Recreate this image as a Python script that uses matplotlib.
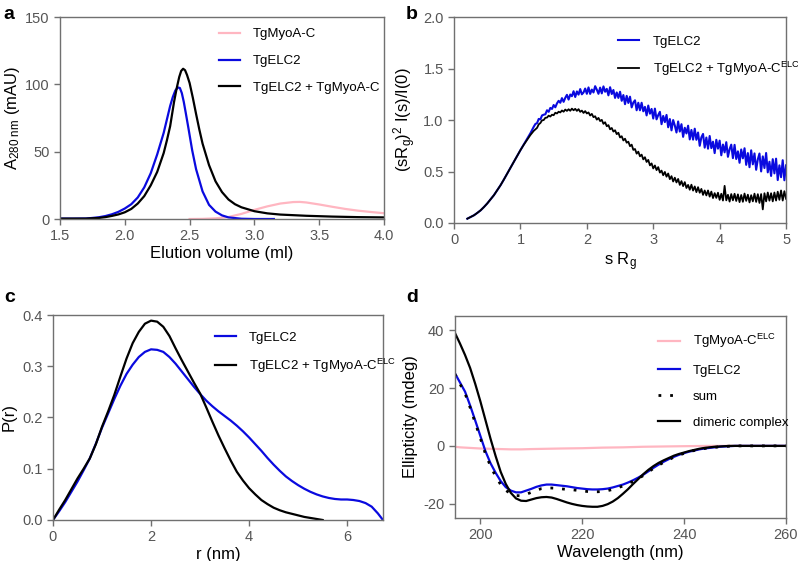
import numpy as np
import matplotlib
matplotlib.use("Agg")
import matplotlib.pyplot as plt

plt.rcParams['font.family'] = ['Liberation Sans', 'DejaVu Sans']
plt.rcParams['axes.unicode_minus'] = False
plt.rcParams['mathtext.fontset'] = 'custom'
plt.rcParams['mathtext.rm'] = 'Liberation Sans'
plt.rcParams['mathtext.it'] = 'Liberation Sans'

PINK = '#ffb6c1'
BLUE = '#0a0adf'
BLACK = '#000000'
GRAY = '#707070'
TICKC = '#555555'

# ---- panel a: size exclusion chromatography
vol_myoa = [2.5, 2.6, 2.7, 2.8, 2.9, 3.0, 3.1, 3.2, 3.3, 3.35, 3.4, 3.5, 3.6, 3.7, 3.8, 3.9, 4.0]
abs_myoa = [0.0, 0.1, 0.5, 1.5, 3.8, 6.8, 9.4, 11.5, 12.6, 12.7, 12.3, 10.8, 9.1, 7.5, 6.2, 5.2, 4.3]

vol_elc2 = [1.5, 1.6, 1.7, 1.75, 1.8, 1.85, 1.9, 1.95, 2.0, 2.05, 2.1, 2.15, 2.2, 2.25, 2.3,
            2.325, 2.35, 2.37, 2.39, 2.41, 2.425, 2.44, 2.455, 2.47, 2.49, 2.52, 2.55, 2.6,
            2.65, 2.7, 2.75, 2.8, 2.9, 3.0, 3.15]
abs_elc2 = [0.3, 0.3, 0.4, 0.8, 1.3, 2.2, 3.5, 5.3, 7.8, 11.0, 16.0, 23.5, 34.0, 48.0, 64.0,
            74.0, 84.0, 90.5, 95.5, 97.7, 97.3, 93.5, 87.0, 79.0, 68.0, 51.0, 37.0, 20.5,
            10.5, 5.5, 2.7, 1.2, 0.2, 0.0, 0.0]

vol_cplx = [1.5, 1.7, 1.8, 1.85, 1.9, 1.95, 2.0, 2.05, 2.1, 2.15, 2.2, 2.25, 2.3, 2.325, 2.35,
            2.38, 2.4, 2.42, 2.435, 2.45, 2.465, 2.48, 2.5, 2.525, 2.55, 2.575, 2.6, 2.65, 2.7,
            2.75, 2.8, 2.85, 2.9, 3.0, 3.1, 3.2, 3.4, 3.6, 3.8, 4.0]
abs_cplx = [0.3, 0.3, 0.8, 1.4, 2.3, 3.4, 5.0, 7.5, 11.5, 17.0, 25.0, 35.0, 49.0, 58.5, 69.0,
            87.0, 97.0, 105.5, 110.0, 111.6, 110.5, 107.0, 101.0, 90.0, 78.0, 66.5, 56.0, 40.0, 28.0,
            20.0, 14.5, 11.0, 8.7, 5.8, 4.2, 3.3, 2.4, 1.8, 1.4, 1.2]

# ---- panel b: dimensionless Kratky plot (smooth low-s part + noisy part)
sRg = np.concatenate([np.linspace(0.2, 1.2, 21), np.linspace(1.225, 5.0, 152)])
kratky_elc2 = [
    0.042, 0.058, 0.075, 0.098, 0.123, 0.155, 0.190, 0.230, 0.270, 0.318, 0.367,
    0.422, 0.480, 0.537, 0.594, 0.651, 0.708, 0.762, 0.815, 0.872, 0.935,
    0.962, 0.970, 1.011, 1.006, 1.045, 1.052, 1.056, 1.095,
    1.080, 1.118, 1.108, 1.146, 1.124, 1.162, 1.187, 1.168,
    1.213, 1.177, 1.216, 1.245, 1.199, 1.248, 1.232, 1.280,
    1.224, 1.278, 1.247, 1.301, 1.250, 1.268, 1.306, 1.255,
    1.317, 1.254, 1.296, 1.268, 1.329, 1.295, 1.255, 1.315,
    1.259, 1.327, 1.275, 1.303, 1.240, 1.319, 1.253, 1.292,
    1.215, 1.268, 1.215, 1.275, 1.187, 1.243, 1.154, 1.235,
    1.166, 1.227, 1.123, 1.170, 1.192, 1.095, 1.168, 1.095,
    1.168, 1.085, 1.128, 1.045, 1.141, 1.062, 1.108, 1.015,
    1.111, 1.007, 1.048, 1.080, 0.960, 1.040, 0.980, 1.050,
    0.930, 1.010, 0.900, 1.000, 0.947, 0.879, 0.986, 0.888,
    0.960, 0.837, 0.925, 0.870, 0.945, 0.812, 0.904, 0.810,
    0.916, 0.808, 0.879, 0.750, 0.832, 0.865, 0.732, 0.830,
    0.722, 0.845, 0.727, 0.790, 0.679, 0.808, 0.722, 0.800,
    0.658, 0.762, 0.686, 0.785, 0.643, 0.717, 0.761, 0.630,
    0.759, 0.622, 0.696, 0.585, 0.714, 0.628, 0.726, 0.565,
    0.679, 0.542, 0.706, 0.570, 0.676, 0.517, 0.618, 0.675,
    0.501, 0.647, 0.534, 0.680, 0.492, 0.595, 0.457, 0.620,
    0.482, 0.625, 0.417, 0.560, 0.445, 0.610, 0.415, 0.560]
kratky_cplx = [
    0.042, 0.058, 0.075, 0.098, 0.123, 0.155, 0.190, 0.230, 0.270, 0.318, 0.367,
    0.422, 0.480, 0.537, 0.594, 0.651, 0.708, 0.760, 0.808, 0.855, 0.895,
    0.910, 0.924, 0.958, 0.971, 0.997, 1.000, 1.022, 1.024,
    1.043, 1.034, 1.052, 1.047, 1.071, 1.064, 1.081, 1.074,
    1.093, 1.081, 1.102, 1.089, 1.105, 1.090, 1.111, 1.095,
    1.109, 1.089, 1.106, 1.080, 1.092, 1.069, 1.087, 1.064,
    1.074, 1.044, 1.060, 1.028, 1.037, 1.004, 1.021, 0.990,
    1.002, 0.963, 0.979, 0.940, 0.951, 0.910, 0.923, 0.888,
    0.901, 0.863, 0.877, 0.831, 0.843, 0.802, 0.819, 0.780,
    0.790, 0.746, 0.761, 0.710, 0.719, 0.674, 0.693, 0.648,
    0.664, 0.618, 0.639, 0.593, 0.613, 0.560, 0.579, 0.530,
    0.559, 0.514, 0.543, 0.490, 0.509, 0.464, 0.496, 0.450,
    0.481, 0.426, 0.455, 0.403, 0.440, 0.394, 0.428, 0.370,
    0.407, 0.358, 0.397, 0.340, 0.370, 0.323, 0.372, 0.315,
    0.355, 0.300, 0.348, 0.294, 0.331, 0.273, 0.316, 0.268,
    0.316, 0.256, 0.305, 0.242, 0.290, 0.244, 0.294, 0.225,
    0.284, 0.218, 0.361, 0.220, 0.274, 0.208, 0.281, 0.220,
    0.284, 0.214, 0.278, 0.203, 0.272, 0.206, 0.286, 0.215,
    0.275, 0.200, 0.270, 0.210, 0.285, 0.205, 0.280, 0.195,
    0.281, 0.132, 0.289, 0.210, 0.296, 0.217, 0.289, 0.210,
    0.296, 0.218, 0.304, 0.225, 0.316, 0.218, 0.309, 0.235]

# ---- panel c: pair distance distribution
r_elc2 = [0.0, 0.125, 0.25, 0.375, 0.5, 0.625, 0.75, 0.875, 1.0, 1.125, 1.25, 1.375, 1.5,
          1.625, 1.75, 1.875, 2.0, 2.125, 2.25, 2.375, 2.5, 2.625, 2.75, 2.875, 3.0, 3.125,
          3.25, 3.375, 3.5, 3.625, 3.75, 3.875, 4.0, 4.125, 4.25, 4.375, 4.5, 4.625, 4.75,
          4.875, 5.0, 5.125, 5.25, 5.375, 5.5, 5.625, 5.75, 5.875, 6.0, 6.125, 6.25, 6.375,
          6.5, 6.625, 6.73]
pr_elc2 = [0.0, 0.017, 0.035, 0.055, 0.075, 0.097, 0.12, 0.149, 0.18, 0.208, 0.236, 0.262, 0.285,
           0.303, 0.318, 0.328, 0.333, 0.332, 0.328, 0.318, 0.305, 0.290, 0.275, 0.260, 0.246,
           0.233, 0.222, 0.212, 0.203, 0.194, 0.184, 0.173, 0.161, 0.148, 0.135, 0.121, 0.108,
           0.096, 0.085, 0.076, 0.068, 0.061, 0.055, 0.050, 0.046, 0.043, 0.041, 0.040, 0.040,
           0.039, 0.037, 0.033, 0.026, 0.013, 0.0]
r_cplx = [0.0, 0.125, 0.25, 0.375, 0.5, 0.625, 0.75, 0.875, 1.0, 1.125, 1.25, 1.375, 1.5,
          1.625, 1.75, 1.875, 2.0, 2.125, 2.25, 2.375, 2.5, 2.625, 2.75, 2.875, 3.0, 3.125,
          3.25, 3.375, 3.5, 3.625, 3.75, 3.875, 4.0, 4.125, 4.25, 4.375, 4.5, 4.625, 4.75,
          4.875, 5.0, 5.125, 5.25, 5.375, 5.5]
pr_cplx = [0.0, 0.020, 0.039, 0.060, 0.081, 0.100, 0.120, 0.148, 0.182, 0.212, 0.244, 0.280,
           0.315, 0.345, 0.367, 0.383, 0.389, 0.387, 0.377, 0.359, 0.335, 0.312, 0.290, 0.268,
           0.247, 0.220, 0.192, 0.165, 0.140, 0.116, 0.094, 0.077, 0.062, 0.050, 0.039, 0.031,
           0.024, 0.019, 0.015, 0.012, 0.009, 0.006, 0.004, 0.002, 0.0]

# ---- panel d: circular dichroism
wl = list(range(195, 261))
cd_elc2 = [25.2, 22.0, 18.8, 14.0, 8.8, 3.5, -1.8, -6.0, -9.3, -12.2, -14.3, -15.5, -16.1, -16.1,
           -15.5, -14.9, -14.2, -13.7, -13.4, -13.4, -13.6, -13.8, -14.0, -14.3, -14.6, -14.8,
           -15.0, -15.1, -15.1, -15.0, -14.8, -14.4, -13.9, -13.4, -12.7, -11.9, -11.0, -10.0,
           -8.8, -7.6, -6.5, -5.5, -4.6, -3.8, -3.1, -2.5, -2.0, -1.6, -1.2, -0.9, -0.7, -0.5,
           -0.3, -0.2, -0.1, 0.0, 0.0, 0.0, 0.0, 0.0, 0.0, 0.0, 0.0, 0.0, 0.0, 0.0]
cd_sum = [24.9, 21.5, 18.2, 13.3, 8.0, 2.7, -2.7, -7.0, -10.5, -13.4, -15.4, -16.6, -17.2, -17.3,
          -16.8, -16.1, -15.4, -14.8, -14.6, -14.6, -14.7, -14.9, -15.1, -15.2, -15.4, -15.6,
          -15.8, -15.9, -15.9, -15.8, -15.5, -15.1, -14.5, -13.9, -13.1, -12.3, -11.3, -10.3,
          -9.0, -7.8, -6.7, -5.7, -4.8, -3.9, -3.2, -2.6, -2.0, -1.6, -1.2, -0.9, -0.7, -0.5,
          -0.3, -0.2, -0.1, 0.0, 0.0, 0.0, 0.0, 0.0, 0.0, 0.0, 0.0, 0.0, 0.0, 0.0]
cd_cplx = [39.2, 35.5, 31.5, 27.0, 21.5, 15.5, 9.0, 2.5, -3.5, -9.0, -13.2, -16.3, -18.2, -19.0,
           -19.1, -18.6, -18.1, -17.8, -17.7, -17.9, -18.4, -19.0, -19.6, -20.1, -20.5, -20.8,
           -21.0, -21.1, -21.1, -20.8, -20.2, -19.3, -18.1, -16.6, -15.0, -13.2, -11.5, -9.8,
           -8.3, -7.0, -5.9, -5.0, -4.2, -3.4, -2.8, -2.3, -1.8, -1.4, -1.0, -0.7, -0.5, -0.3,
           -0.2, -0.1, 0.0, 0.0, 0.0, 0.0, 0.0, 0.0, 0.0, 0.0, 0.0, 0.0, 0.0, 0.0]
wl_myoa = [195, 196, 197, 198, 199, 200, 202, 204, 206, 208, 210, 213, 216, 220, 224, 228, 232,
           236, 240, 245, 250, 255, 260]
cd_myoa = [-0.3, -0.5, -0.6, -0.7, -0.8, -0.9, -1.0, -1.1, -1.2, -1.2, -1.1, -1.0, -0.9, -0.8,
           -0.6, -0.5, -0.3, -0.2, -0.1, 0.0, 0.0, 0.0, 0.0]


def style_axes(ax):
    for sp in ax.spines.values():
        sp.set_color(GRAY)
        sp.set_linewidth(1.0)
    ax.tick_params(direction='out', length=4, width=1, color=GRAY,
                   labelcolor=TICKC, labelsize=10.5)


def add_legend(ax, x, y, spacing):
    ax.legend(loc='upper left', bbox_to_anchor=(x, y), frameon=False, fontsize=9.5,
              handlelength=1.6, handletextpad=1.0, labelspacing=spacing, borderpad=0,
              borderaxespad=0)


fig = plt.figure(figsize=(7.98, 5.61), dpi=100)

# a
axa = fig.add_axes([0.0752, 0.6096, 0.406, 0.360])
axa.plot(vol_myoa, abs_myoa, color=PINK, lw=1.6, label='TgMyoA-C')
axa.plot(vol_elc2, abs_elc2, color=BLUE, lw=1.6, label='TgELC2')
axa.plot(vol_cplx, abs_cplx, color=BLACK, lw=1.6, label='TgELC2 + TgMyoA-C')
axa.set_xlim(1.5, 4.0)
axa.set_ylim(0, 150)
axa.set_xticks([1.5, 2.0, 2.5, 3.0, 3.5, 4.0])
axa.set_xticklabels(['1.5', '2.0', '2.5', '3.0', '3.5', '4.0'])
axa.set_yticks([0, 50, 100, 150])
axa.set_xlabel('Elution volume (ml)', fontsize=12, labelpad=2)
axa.set_ylabel(r'A$_{\mathregular{280\ nm}}$ (mAU)', fontsize=12, labelpad=2)
style_axes(axa)
add_legend(axa, 0.49, 0.945, 1.1)

# b
axb = fig.add_axes([0.569, 0.6025, 0.416, 0.367])
axb.plot(sRg, kratky_elc2, color=BLUE, lw=1.5, label='TgELC2')
axb.plot(sRg, kratky_cplx, color=BLACK, lw=1.3, label=r'TgELC2 + TgMyoA-C$^{\mathregular{ELC}}$')
axb.set_xlim(0, 5)
axb.set_ylim(0, 2)
axb.set_xticks([0, 1, 2, 3, 4, 5])
axb.set_yticks([0.0, 0.5, 1.0, 1.5, 2.0])
axb.set_yticklabels(['0.0', '0.5', '1.0', '1.5', '2.0'])
axb.set_xlabel(r's R$_{\mathregular{g}}$', fontsize=12, labelpad=2)
axb.set_ylabel(r'(sR$_{\mathregular{g}}$)$^{\mathregular{2}}$ I(s)/I(0)', fontsize=12, labelpad=4)
style_axes(axb)
add_legend(axb, 0.495, 0.91, 0.9)

# c
axc = fig.add_axes([0.0664, 0.0731, 0.4135, 0.3654])
axc.plot(r_elc2, pr_elc2, color=BLUE, lw=1.6, label='TgELC2')
axc.plot(r_cplx, pr_cplx, color=BLACK, lw=1.6, label=r'TgELC2 + TgMyoA-C$^{\mathregular{ELC}}$')
axc.set_xlim(0, 6.73)
axc.set_ylim(0, 0.4)
axc.set_xticks([0, 2, 4, 6])
axc.set_yticks([0.0, 0.1, 0.2, 0.3, 0.4])
axc.set_yticklabels(['0.0', '0.1', '0.2', '0.3', '0.4'])
axc.set_xlabel('r (nm)', fontsize=12, labelpad=2)
axc.set_ylabel('P(r)', fontsize=12, labelpad=4)
style_axes(axc)
add_legend(axc, 0.49, 0.92, 1.0)

# d
axd = fig.add_axes([0.570, 0.0766, 0.4148, 0.360])
axd.plot(wl_myoa, cd_myoa, color=PINK, lw=1.6, label=r'TgMyoA-C$^{\mathregular{ELC}}$')
axd.plot(wl, cd_elc2, color=BLUE, lw=1.6, label='TgELC2')
axd.plot(wl, cd_sum, color=BLACK, lw=2.0, linestyle=(0, (1, 3.2)), label='sum')
axd.plot(wl, cd_cplx, color=BLACK, lw=1.6, label='dimeric complex')
axd.set_xlim(195, 260)
axd.set_ylim(-25, 45)
axd.set_xticks([200, 220, 240, 260])
axd.set_yticks([-20, 0, 20, 40])
axd.set_xlabel('Wavelength (nm)', fontsize=12, labelpad=2)
axd.set_ylabel('Ellipticity (mdeg)', fontsize=12, labelpad=4)
style_axes(axd)
add_legend(axd, 0.615, 0.92, 1.05)

for lab, x, y in [('a', 0.004, 0.99), ('b', 0.509, 0.99), ('c', 0.005, 0.485), ('d', 0.509, 0.485)]:
    fig.text(x, y, lab, fontsize=14, fontweight='bold', va='top', ha='left')

fig.savefig('out.png', dpi=100)
